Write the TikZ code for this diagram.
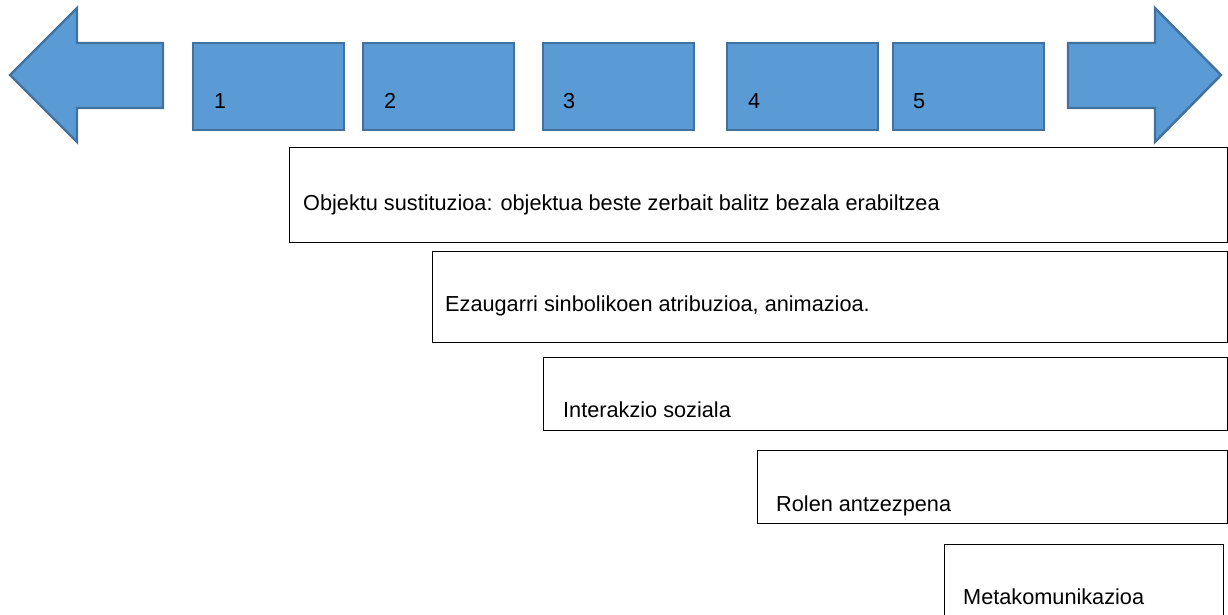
\documentclass[tikz,border=0pt]{standalone}
\usepackage{fontspec}
\setmainfont{Liberation Sans}
\definecolor{stepfill}{HTML}{5B9BD5}
\definecolor{stepline}{HTML}{41719C}
\begin{document}
\begin{tikzpicture}[x=1pt,y=-1pt,
  stagebox/.style={draw=stepline,fill=stepfill,line width=2.4pt,anchor=north west,
    inner sep=0pt,minimum width=151pt,minimum height=87pt},
  phasebox/.style={draw=black,fill=white,line width=1.3pt,anchor=north west,inner sep=0pt},
  label/.style={anchor=base west,inner sep=0pt,font=\fontsize{21.7}{26}\selectfont},
  bigarrow/.style={draw=stepline,fill=stepfill,line width=2.4pt,line join=miter}]
\useasboundingbox (0,0) rectangle (1228,614);
\clip (0,0) rectangle (1228,614);

% direction arrows at both ends of the strip
\path[bigarrow] (10,75) -- (77,8) -- (77,43) -- (163,43) -- (163,108) -- (77,108) -- (77,142) -- cycle;
\path[bigarrow] (1221,75) -- (1155,8) -- (1155,43) -- (1068,43) -- (1068,108) -- (1155,108) -- (1155,142) -- cycle;

% numbered stages
\node[stagebox] (s1) at (192,42) {};
\node[stagebox] (s2) at (362,42) {};
\node[stagebox] (s3) at (542,42) {};
\node[stagebox] (s4) at (726,42) {};
\node[stagebox] (s5) at (892,42) {};
\node[label] (n1) at (214,108) {1};
\node[label] (n2) at (384,108) {2};
\node[label] (n3) at (563,108) {3};
\node[label] (n4) at (748,108) {4};
\node[label] (n5) at (913,108) {5};

% phases, each starting under its stage
\node[phasebox,minimum width=938pt,minimum height=95pt] (p1) at (289,147) {};
\node[phasebox,minimum width=795pt,minimum height=91pt] (p2) at (432,251) {};
\node[phasebox,minimum width=684pt,minimum height=73pt] (p3) at (543,357) {};
\node[phasebox,minimum width=470pt,minimum height=73pt] (p4) at (757,450) {};
\node[phasebox,minimum width=279pt,minimum height=80pt] (p5) at (944,544) {};

\node[label] (t1) at (303,210) {Objektu sustituzioa: objektua beste zerbait balitz bezala erabiltzea};
\node[label] (t2) at (445,311) {Ezaugarri sinbolikoen atribuzioa, animazioa.};
\node[label] (t3) at (563,417) {Interakzio soziala};
\node[label] (t4) at (776,511) {Rolen antzezpena};
\node[label] (t5) at (963,604) {Metakomunikazioa};
\end{tikzpicture}
\end{document}
